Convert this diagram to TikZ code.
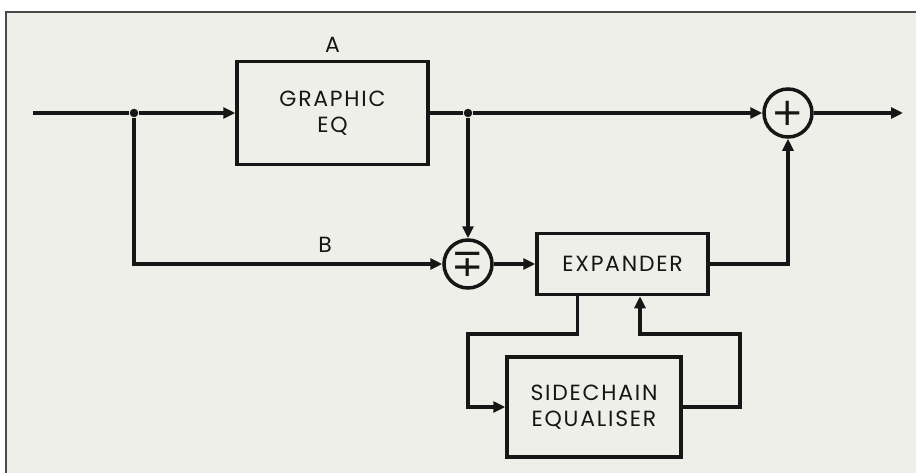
\documentclass[tikz,border=0pt]{standalone}
\usepackage{fontspec}
\usepackage{xcolor}
\usepackage{tikz}
\usetikzlibrary{arrows.meta,positioning}
\newfontfamily\diagfont[LetterSpace=8]{Poppins}
\newfontfamily\symfont{DejaVu Sans}
\definecolor{ink}{HTML}{161616}
\definecolor{paper}{HTML}{EFEFEA}
\definecolor{edge}{HTML}{4A4A4A}

\begin{document}
\begin{tikzpicture}[
  x=0.02cm, y=-0.02cm,
  font=\diagfont\fontsize{12.5}{15}\selectfont,
  blk/.style={draw=ink, line width=2pt, fill=paper, align=center, text=ink, inner sep=0pt},
  sumnode/.style={draw=ink, line width=2pt, circle, fill=paper, minimum size=0.96cm, inner sep=0pt, text=ink, font=\symfont\fontsize{22}{22}\selectfont},
  dot/.style={circle, fill=ink, inner sep=0pt, minimum size=0.17cm},
  lbl/.style={text=ink, inner sep=1pt},
  wire/.style={draw=ink, line width=2pt},
  arr/.style={wire, -{Triangle[length=0.24cm, width=0.22cm]}}
]
\useasboundingbox (0,0) rectangle (916,473);
\fill[paper] (6,12) rectangle (916,473);
\draw[edge, line width=0.8pt] (6,473) -- (6,12) -- (916,12);

\node[blk, minimum width=3.82cm, minimum height=2.06cm] (geq) at (332.5,113) {GRAPHIC\\EQ};
\node[lbl, above=0.1cm of geq] (la) {A};
\node[blk, minimum width=3.42cm, minimum height=1.22cm] (exp) at (622.5,264) {EXPANDER};
\node[blk, minimum width=3.48cm, minimum height=2.0cm] (side) at (594,407) {SIDECHAIN\\EQUALISER};
\node[sumnode] (sub) at (468,264) {∓};
\node[sumnode] (sum) at (788,113) {+};

\coordinate (in) at (33,113);
\coordinate (out) at (903,113);
\node[dot] (j1) at (134,113) {};
\node[dot] (j2) at (468,113) {};
\coordinate (lpl) at (468,334);
\coordinate (lpr) at (740,334);
\node[lbl] (lb) at (325,245) {B};

\draw[wire] (in) -- (j1);
\draw[arr] (j1) -- (geq);
\draw[arr] (j1) |- (sub);
\draw[wire] (geq) -- (j2);
\draw[arr] (j2) -- (sum);
\draw[arr] (j2) -- (sub);
\draw[arr] (sum) -- (out);
\draw[arr] (sub) -- (exp);
\draw[arr] (exp) -| (sum);
\draw[arr] ([xshift=-0.9cm]exp.south) |- (lpl) |- (side);
\draw[arr] (side) -| (lpr) -| ([xshift=0.35cm]exp.south);
\end{tikzpicture}
\end{document}
